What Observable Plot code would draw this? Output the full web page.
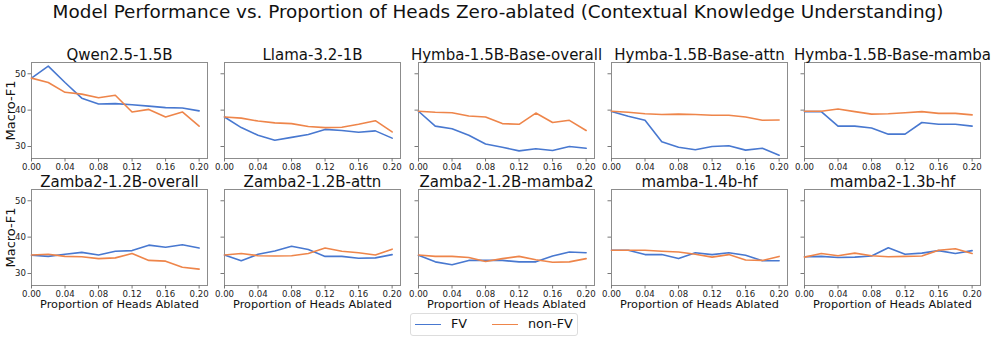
<!DOCTYPE html>
<html><head><meta charset="utf-8">
<script src="https://cdn.jsdelivr.net/npm/d3@7"></script>
<script src="https://cdn.jsdelivr.net/npm/@observablehq/plot@0.6"></script>
<style>
body{margin:0;background:#fff;font-family:"DejaVu Sans",sans-serif;}
#root{position:relative;width:996px;height:339px;overflow:hidden;background:#fff;}
#title{position:absolute;left:0;top:1px;width:996px;text-align:center;font-size:18.4px;line-height:22px;color:#111;white-space:nowrap;}
.panel{position:absolute;}
#legend{position:absolute;left:410px;top:313px;width:166px;height:21px;border:1px solid #ddd;border-radius:3px;background:#fff;font-size:12.8px;color:#111;}
.lline{position:absolute;top:10px;width:26px;height:0;border-top:1.6px solid;}
.ltext{position:absolute;top:-1px;line-height:22px;white-space:nowrap;}
</style></head><body>
<div id="root">
<div id="title">Model Performance vs. Proportion of Heads Zero-ablated (Contextual Knowledge Understanding)</div>
<div id="legend"></div>
</div>
<script>
const xs = [0, 0.02, 0.04, 0.06, 0.08, 0.10, 0.12, 0.14, 0.16, 0.18, 0.20];
const xTicks = [0, 0.04, 0.08, 0.12, 0.16, 0.20];
const yTicks = [30, 40, 50];
const seriesNames = ["FV", "non-FV"];
const seriesColors = ["#4878d0", "#ee854a"];
const panelTitles = [
  "Qwen2.5-1.5B", "Llama-3.2-1B", "Hymba-1.5B-Base-overall", "Hymba-1.5B-Base-attn", "Hymba-1.5B-Base-mamba",
  "Zamba2-1.2B-overall", "Zamba2-1.2B-attn", "Zamba2-1.2B-mamba2", "mamba-1.4b-hf", "mamba2-1.3b-hf"
];
const yLabel = "Macro-F1";
const xLabel = "Proportion of Heads Ablated";

const qwenFV      = [48.8, 52.1, 47.6, 43.3, 41.7, 41.8, 41.5, 41.1, 40.7, 40.6, 39.8];
const qwenNonFV   = [48.8, 47.6, 44.9, 44.4, 43.4, 44.1, 39.5, 40.2, 38.1, 39.5, 35.6];
const llamaFV     = [38.1, 35.2, 33.1, 31.7, 32.5, 33.3, 34.7, 34.4, 33.9, 34.3, 32.3];
const llamaNonFV  = [38.1, 37.8, 37.0, 36.5, 36.3, 35.5, 35.2, 35.3, 36.1, 37.1, 34.0];
const hymbaAllFV    = [39.7, 35.6, 34.9, 33.1, 30.7, 29.8, 28.8, 29.4, 28.9, 30.0, 29.5];
const hymbaAllNonFV = [39.7, 39.4, 39.3, 38.4, 38.1, 36.3, 36.1, 39.2, 36.6, 37.2, 34.4];
const hymbaAttnFV    = [39.6, 38.3, 37.2, 31.3, 29.8, 29.1, 30.0, 30.2, 29.0, 29.5, 27.6];
const hymbaAttnNonFV = [39.7, 39.4, 39.0, 38.8, 38.9, 38.8, 38.6, 38.6, 38.1, 37.2, 37.3];
const hymbaMambaFV    = [39.6, 39.6, 35.6, 35.6, 35.1, 33.4, 33.4, 36.6, 36.1, 36.1, 35.6];
const hymbaMambaNonFV = [39.7, 39.7, 40.3, 39.6, 38.9, 39.0, 39.3, 39.6, 39.1, 39.1, 38.7];
const zambaAllFV    = [35.0, 34.7, 35.3, 35.8, 35.1, 36.1, 36.3, 37.8, 37.2, 37.9, 37.0];
const zambaAllNonFV = [35.1, 35.3, 34.7, 34.6, 34.1, 34.3, 35.5, 33.6, 33.4, 31.7, 31.2];
const zambaAttnFV    = [35.1, 33.5, 35.3, 36.2, 37.5, 36.6, 34.7, 34.7, 34.2, 34.3, 35.2];
const zambaAttnNonFV = [35.1, 35.5, 34.9, 34.8, 34.9, 35.5, 37.0, 36.1, 35.7, 35.1, 36.7];
const zambaMambaFV    = [35.0, 33.2, 32.4, 33.6, 33.6, 33.6, 33.2, 33.2, 34.8, 35.9, 35.7];
const zambaMambaNonFV = [35.1, 34.7, 34.7, 34.4, 33.3, 34.1, 34.7, 33.8, 33.1, 33.2, 34.1];
const mamba1FV    = [36.4, 36.4, 35.2, 35.2, 34.1, 35.7, 35.2, 35.7, 35.0, 33.5, 33.5];
const mamba1NonFV = [36.4, 36.4, 36.4, 36.1, 35.9, 35.3, 34.5, 35.2, 33.7, 33.6, 34.7];
const mamba2FV    = [34.6, 34.7, 34.4, 34.5, 34.8, 37.1, 35.3, 35.6, 36.3, 35.5, 36.3];
const mamba2NonFV = [34.5, 35.5, 34.9, 35.6, 34.9, 34.6, 34.7, 34.8, 36.4, 36.8, 35.5];

const fvSeries = [qwenFV, llamaFV, hymbaAllFV, hymbaAttnFV, hymbaMambaFV, zambaAllFV, zambaAttnFV, zambaMambaFV, mamba1FV, mamba2FV];
const nonFvSeries = [qwenNonFV, llamaNonFV, hymbaAllNonFV, hymbaAttnNonFV, hymbaMambaNonFV, zambaAllNonFV, zambaAttnNonFV, zambaMambaNonFV, mamba1NonFV, mamba2NonFV];

const root = document.getElementById("root");
const mL = 31, mR = 14, mT = 24, mB = 36, pw = 176, ph = 96;
const colStep = 193.3;
const rowTops = [61.5, 189];

panelTitles.forEach((title, i) => {
  const col = i % 5, row = Math.floor(i / 5);
  const rows = [];
  [fvSeries[i], nonFvSeries[i]].forEach((vals, s) => vals.forEach((v, k) => rows.push({x: xs[k], y: v, s: seriesNames[s]})));
  const marks = [
    Plot.frame({stroke: "#8c8c8c", strokeWidth: 1}),
    Plot.axisX({ticks: xTicks, tickFormat: d => d.toFixed(2), tickSize: 3.5, tickPadding: 1.5, label: null, stroke: "#777", fill: "#222", fontSize: 8.6}),
    Plot.axisY({ticks: yTicks, tickSize: 3.5, tickPadding: 2, label: null, stroke: "#777", fill: "#222", fontSize: 8.6,
      tickFormat: col === 0 ? (d => String(d)) : (() => "")}),
    Plot.line(rows, {x: "x", y: "y", z: "s", stroke: "s", strokeWidth: 1.6}),
    Plot.text([title], {text: d => d, frameAnchor: "top", lineAnchor: "bottom", dy: -3, fontSize: 15, fill: "#111"})
  ];
  if (col === 0) marks.push(Plot.text([yLabel], {text: d => d, frameAnchor: "left", textAnchor: "middle", lineAnchor: "middle", rotate: -90, dx: -21, fontSize: 13, fill: "#111"}));
  if (row === 1) marks.push(Plot.text([xLabel], {text: d => d, frameAnchor: "bottom", lineAnchor: "middle", dy: 19.3, fontSize: 11.3, fill: "#111"}));
  const svg = Plot.plot({
    width: pw + mL + mR, height: ph + mT + mB,
    marginLeft: mL, marginRight: mR, marginTop: mT, marginBottom: mB,
    x: {domain: [0, 0.21]},
    y: {domain: [26.7, 53.1]},
    color: {domain: seriesNames, range: seriesColors},
    style: {background: "transparent", overflow: "visible", fontFamily: "DejaVu Sans", color: "#222", maxWidth: "none"},
    marks
  });
  const wrap = document.createElement("div");
  wrap.className = "panel";
  wrap.style.left = (col * colStep) + "px";
  wrap.style.top = (rowTops[row] - mT) + "px";
  wrap.appendChild(svg);
  root.appendChild(wrap);
});

const legend = document.getElementById("legend");
const legendPos = [[4, 40], [81, 117]];
seriesNames.forEach((name, s) => {
  const ln = document.createElement("div");
  ln.className = "lline";
  ln.style.left = legendPos[s][0] + "px";
  ln.style.borderTopColor = seriesColors[s];
  legend.appendChild(ln);
  const tx = document.createElement("div");
  tx.className = "ltext";
  tx.style.left = legendPos[s][1] + "px";
  tx.textContent = name;
  legend.appendChild(tx);
});
</script>
</body></html>
